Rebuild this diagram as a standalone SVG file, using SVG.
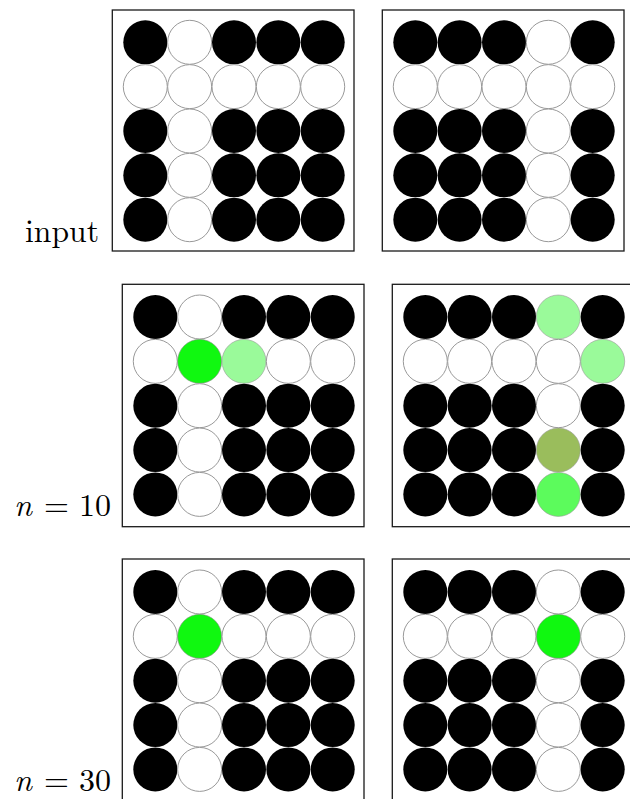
<svg xmlns="http://www.w3.org/2000/svg" width="630" height="799" viewBox="0 0 630 799">
<style>
.box{fill:#fff;stroke:#1a1a1a;stroke-width:1.3}
.b{fill:#000}
.w{fill:#fff;stroke:#999;stroke-width:1}
.g1{fill:#10f810;stroke:#8a8a8a;stroke-width:0.6}
.g2{fill:#9afa9a;stroke:#999;stroke-width:0.6}
.g3{fill:#9abd5c;stroke:#999;stroke-width:0.6}
.g4{fill:#5cfb5c;stroke:#999;stroke-width:0.6}
.lbl{font-family:"Latin Modern Roman","Liberation Serif","DejaVu Serif",serif;font-size:32px;fill:#000}
.mi{font-style:italic}
</style>
<rect width="630" height="799" fill="#fff"/>
<g id="label-input"><text class="lbl" x="25" y="242" textLength="74" lengthAdjust="spacingAndGlyphs">input</text></g>
<g id="label-n10"><text class="lbl" x="14" y="516"><tspan class="mi">n</tspan><tspan x="44">=</tspan><tspan x="79">10</tspan></text></g>
<g id="label-n30"><text class="lbl" x="14" y="791"><tspan class="mi">n</tspan><tspan x="44">=</tspan><tspan x="79">30</tspan></text></g>

<g id="panel-input-left" transform="translate(112.3,10)">
<rect class="box" x="0" y="0" width="241.7" height="241"/>
<g transform="translate(33,32.3)">
<circle class="b" cx="0" cy="0" r="22"/><circle class="w" cx="44.35" cy="0" r="22"/><circle class="b" cx="88.7" cy="0" r="22"/><circle class="b" cx="133.05" cy="0" r="22"/><circle class="b" cx="177.4" cy="0" r="22"/>
<circle class="w" cx="0" cy="44.35" r="22"/><circle class="w" cx="44.35" cy="44.35" r="22"/><circle class="w" cx="88.7" cy="44.35" r="22"/><circle class="w" cx="133.05" cy="44.35" r="22"/><circle class="w" cx="177.4" cy="44.35" r="22"/>
<circle class="b" cx="0" cy="88.7" r="22"/><circle class="w" cx="44.35" cy="88.7" r="22"/><circle class="b" cx="88.7" cy="88.7" r="22"/><circle class="b" cx="133.05" cy="88.7" r="22"/><circle class="b" cx="177.4" cy="88.7" r="22"/>
<circle class="b" cx="0" cy="133.05" r="22"/><circle class="w" cx="44.35" cy="133.05" r="22"/><circle class="b" cx="88.7" cy="133.05" r="22"/><circle class="b" cx="133.05" cy="133.05" r="22"/><circle class="b" cx="177.4" cy="133.05" r="22"/>
<circle class="b" cx="0" cy="177.4" r="22"/><circle class="w" cx="44.35" cy="177.4" r="22"/><circle class="b" cx="88.7" cy="177.4" r="22"/><circle class="b" cx="133.05" cy="177.4" r="22"/><circle class="b" cx="177.4" cy="177.4" r="22"/>
</g>
</g>

<g id="panel-input-right" transform="translate(382.3,10)">
<rect class="box" x="0" y="0" width="241.7" height="241"/>
<g transform="translate(33,32.3)">
<circle class="b" cx="0" cy="0" r="22"/><circle class="b" cx="44.35" cy="0" r="22"/><circle class="b" cx="88.7" cy="0" r="22"/><circle class="w" cx="133.05" cy="0" r="22"/><circle class="b" cx="177.4" cy="0" r="22"/>
<circle class="w" cx="0" cy="44.35" r="22"/><circle class="w" cx="44.35" cy="44.35" r="22"/><circle class="w" cx="88.7" cy="44.35" r="22"/><circle class="w" cx="133.05" cy="44.35" r="22"/><circle class="w" cx="177.4" cy="44.35" r="22"/>
<circle class="b" cx="0" cy="88.7" r="22"/><circle class="b" cx="44.35" cy="88.7" r="22"/><circle class="b" cx="88.7" cy="88.7" r="22"/><circle class="w" cx="133.05" cy="88.7" r="22"/><circle class="b" cx="177.4" cy="88.7" r="22"/>
<circle class="b" cx="0" cy="133.05" r="22"/><circle class="b" cx="44.35" cy="133.05" r="22"/><circle class="b" cx="88.7" cy="133.05" r="22"/><circle class="w" cx="133.05" cy="133.05" r="22"/><circle class="b" cx="177.4" cy="133.05" r="22"/>
<circle class="b" cx="0" cy="177.4" r="22"/><circle class="b" cx="44.35" cy="177.4" r="22"/><circle class="b" cx="88.7" cy="177.4" r="22"/><circle class="w" cx="133.05" cy="177.4" r="22"/><circle class="b" cx="177.4" cy="177.4" r="22"/>
</g>
</g>

<g id="panel-n10-left" transform="translate(122.3,284.3)">
<rect class="box" x="0" y="0" width="241.7" height="242.4"/>
<g transform="translate(33,32.7)">
<circle class="b" cx="0" cy="0" r="22"/><circle class="w" cx="44.35" cy="0" r="22"/><circle class="b" cx="88.7" cy="0" r="22"/><circle class="b" cx="133.05" cy="0" r="22"/><circle class="b" cx="177.4" cy="0" r="22"/>
<circle class="w" cx="0" cy="44.35" r="22"/><circle class="g1" cx="44.35" cy="44.35" r="22"/><circle class="g2" cx="88.7" cy="44.35" r="22"/><circle class="w" cx="133.05" cy="44.35" r="22"/><circle class="w" cx="177.4" cy="44.35" r="22"/>
<circle class="b" cx="0" cy="88.7" r="22"/><circle class="w" cx="44.35" cy="88.7" r="22"/><circle class="b" cx="88.7" cy="88.7" r="22"/><circle class="b" cx="133.05" cy="88.7" r="22"/><circle class="b" cx="177.4" cy="88.7" r="22"/>
<circle class="b" cx="0" cy="133.05" r="22"/><circle class="w" cx="44.35" cy="133.05" r="22"/><circle class="b" cx="88.7" cy="133.05" r="22"/><circle class="b" cx="133.05" cy="133.05" r="22"/><circle class="b" cx="177.4" cy="133.05" r="22"/>
<circle class="b" cx="0" cy="177.4" r="22"/><circle class="w" cx="44.35" cy="177.4" r="22"/><circle class="b" cx="88.7" cy="177.4" r="22"/><circle class="b" cx="133.05" cy="177.4" r="22"/><circle class="b" cx="177.4" cy="177.4" r="22"/>
</g>
</g>

<g id="panel-n10-right" transform="translate(392.3,284.3)">
<rect class="box" x="0" y="0" width="241.7" height="242.4"/>
<g transform="translate(33,32.7)">
<circle class="b" cx="0" cy="0" r="22"/><circle class="b" cx="44.35" cy="0" r="22"/><circle class="b" cx="88.7" cy="0" r="22"/><circle class="g2" cx="133.05" cy="0" r="22"/><circle class="b" cx="177.4" cy="0" r="22"/>
<circle class="w" cx="0" cy="44.35" r="22"/><circle class="w" cx="44.35" cy="44.35" r="22"/><circle class="w" cx="88.7" cy="44.35" r="22"/><circle class="w" cx="133.05" cy="44.35" r="22"/><circle class="g2" cx="177.4" cy="44.35" r="22"/>
<circle class="b" cx="0" cy="88.7" r="22"/><circle class="b" cx="44.35" cy="88.7" r="22"/><circle class="b" cx="88.7" cy="88.7" r="22"/><circle class="w" cx="133.05" cy="88.7" r="22"/><circle class="b" cx="177.4" cy="88.7" r="22"/>
<circle class="b" cx="0" cy="133.05" r="22"/><circle class="b" cx="44.35" cy="133.05" r="22"/><circle class="b" cx="88.7" cy="133.05" r="22"/><circle class="g3" cx="133.05" cy="133.05" r="22"/><circle class="b" cx="177.4" cy="133.05" r="22"/>
<circle class="b" cx="0" cy="177.4" r="22"/><circle class="b" cx="44.35" cy="177.4" r="22"/><circle class="b" cx="88.7" cy="177.4" r="22"/><circle class="g4" cx="133.05" cy="177.4" r="22"/><circle class="b" cx="177.4" cy="177.4" r="22"/>
</g>
</g>

<g id="panel-n30-left" transform="translate(122.3,559)">
<rect class="box" x="0" y="0" width="241.7" height="242.4"/>
<g transform="translate(33,33)">
<circle class="b" cx="0" cy="0" r="22"/><circle class="w" cx="44.35" cy="0" r="22"/><circle class="b" cx="88.7" cy="0" r="22"/><circle class="b" cx="133.05" cy="0" r="22"/><circle class="b" cx="177.4" cy="0" r="22"/>
<circle class="w" cx="0" cy="44.35" r="22"/><circle class="g1" cx="44.35" cy="44.35" r="22"/><circle class="w" cx="88.7" cy="44.35" r="22"/><circle class="w" cx="133.05" cy="44.35" r="22"/><circle class="w" cx="177.4" cy="44.35" r="22"/>
<circle class="b" cx="0" cy="88.7" r="22"/><circle class="w" cx="44.35" cy="88.7" r="22"/><circle class="b" cx="88.7" cy="88.7" r="22"/><circle class="b" cx="133.05" cy="88.7" r="22"/><circle class="b" cx="177.4" cy="88.7" r="22"/>
<circle class="b" cx="0" cy="133.05" r="22"/><circle class="w" cx="44.35" cy="133.05" r="22"/><circle class="b" cx="88.7" cy="133.05" r="22"/><circle class="b" cx="133.05" cy="133.05" r="22"/><circle class="b" cx="177.4" cy="133.05" r="22"/>
<circle class="b" cx="0" cy="177.4" r="22"/><circle class="w" cx="44.35" cy="177.4" r="22"/><circle class="b" cx="88.7" cy="177.4" r="22"/><circle class="b" cx="133.05" cy="177.4" r="22"/><circle class="b" cx="177.4" cy="177.4" r="22"/>
</g>
</g>

<g id="panel-n30-right" transform="translate(392.3,559)">
<rect class="box" x="0" y="0" width="241.7" height="242.4"/>
<g transform="translate(33,33)">
<circle class="b" cx="0" cy="0" r="22"/><circle class="b" cx="44.35" cy="0" r="22"/><circle class="b" cx="88.7" cy="0" r="22"/><circle class="w" cx="133.05" cy="0" r="22"/><circle class="b" cx="177.4" cy="0" r="22"/>
<circle class="w" cx="0" cy="44.35" r="22"/><circle class="w" cx="44.35" cy="44.35" r="22"/><circle class="w" cx="88.7" cy="44.35" r="22"/><circle class="g1" cx="133.05" cy="44.35" r="22"/><circle class="w" cx="177.4" cy="44.35" r="22"/>
<circle class="b" cx="0" cy="88.7" r="22"/><circle class="b" cx="44.35" cy="88.7" r="22"/><circle class="b" cx="88.7" cy="88.7" r="22"/><circle class="w" cx="133.05" cy="88.7" r="22"/><circle class="b" cx="177.4" cy="88.7" r="22"/>
<circle class="b" cx="0" cy="133.05" r="22"/><circle class="b" cx="44.35" cy="133.05" r="22"/><circle class="b" cx="88.7" cy="133.05" r="22"/><circle class="w" cx="133.05" cy="133.05" r="22"/><circle class="b" cx="177.4" cy="133.05" r="22"/>
<circle class="b" cx="0" cy="177.4" r="22"/><circle class="b" cx="44.35" cy="177.4" r="22"/><circle class="b" cx="88.7" cy="177.4" r="22"/><circle class="w" cx="133.05" cy="177.4" r="22"/><circle class="b" cx="177.4" cy="177.4" r="22"/>
</g>
</g>
</svg>
